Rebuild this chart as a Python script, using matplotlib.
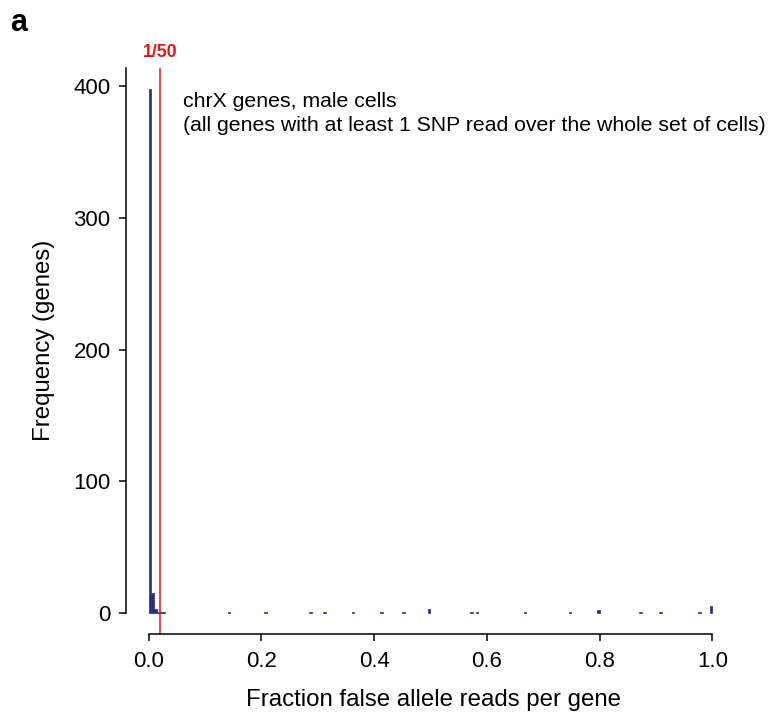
import numpy as np
import matplotlib
matplotlib.use('Agg')
import matplotlib.pyplot as plt
import matplotlib.transforms as mtransforms

plt.rcParams['font.family'] = ['Liberation Sans', 'DejaVu Sans']

# Histogram of fraction of false allele reads per gene (bin centres, counts)
frac_values = [0.0025, 0.0075, 0.0125, 0.0175, 0.0225, 0.0275,
               0.1425, 0.2075, 0.2875, 0.3125, 0.3625, 0.4125, 0.4525,
               0.4975, 0.5725, 0.5825, 0.6675, 0.7475, 0.7975, 0.8725,
               0.9075, 0.9775, 0.9975]
gene_counts = [398, 15, 3, 1, 1, 1,
               1, 1, 1, 1, 1, 1, 1,
               3, 1, 1, 1, 1, 2, 1,
               1, 1, 5]
bin_edges = np.linspace(0, 1, 201)
cutoff = 1 / 50
bar_color = '#2b2d7c'

x_ticks = [0.0, 0.2, 0.4, 0.6, 0.8, 1.0]
y_ticks = [0, 100, 200, 300, 400]

fig = plt.figure(figsize=(7.74, 7.23), dpi=100)
ax = fig.add_axes([0.1628, 0.1231, 0.7868, 0.7829])

n, bins, patches = ax.hist(frac_values, bins=bin_edges, weights=gene_counts,
                           color=bar_color, edgecolor='none')
# give the non-empty bars a thin outline so small counts stay visible
for p in patches:
    if p.get_height() > 0:
        p.set_edgecolor(bar_color)
        p.set_linewidth(0.5)
ax.axvline(cutoff, color='#e8141c', lw=1.1)

ax.set_xlim(-0.04, 1.04)
ax.set_ylim(-15.92, 413.92)

# R-style detached axes
for s in ['top', 'right']:
    ax.spines[s].set_visible(False)
ax.spines['left'].set_bounds(0, 413.92)
ax.spines['bottom'].set_bounds(0, 1)
ax.spines['left'].set_linewidth(1.1)
ax.spines['bottom'].set_linewidth(1.1)

ax.set_xticks(x_ticks)
ax.set_xticklabels(['%.1f' % v for v in x_ticks])
ax.set_yticks(y_ticks)
ax.tick_params(labelsize=16, length=5, width=1.1, pad=6)
ax.tick_params(axis='x', pad=7)

ax.set_xlabel('Fraction false allele reads per gene', fontsize=17.3)
ax.xaxis.set_label_coords(0.505, -0.1166)
ax.xaxis.label.set_va('center')
ax.set_ylabel('Frequency (genes)', fontsize=17.3)
ax.yaxis.set_label_coords(-0.134, 0.519)
ax.yaxis.label.set_va('center')

ax.text(0.0936, 0.957,
        'chrX genes, male cells\n(all genes with at least 1 SNP read over the whole set of cells)',
        transform=ax.transAxes, ha='left', va='top', fontsize=15.3, linespacing=1.3)

trans = mtransforms.blended_transform_factory(ax.transData, ax.transAxes)
ax.text(cutoff, 1.028, '1/50', transform=trans, ha='center', va='center',
        color='#e8141c', fontsize=12.8, fontweight='bold')

fig.text(0.013, 0.968, 'a', fontsize=22, fontweight='bold', ha='left', va='center')

fig.savefig('out.png', dpi=100)
